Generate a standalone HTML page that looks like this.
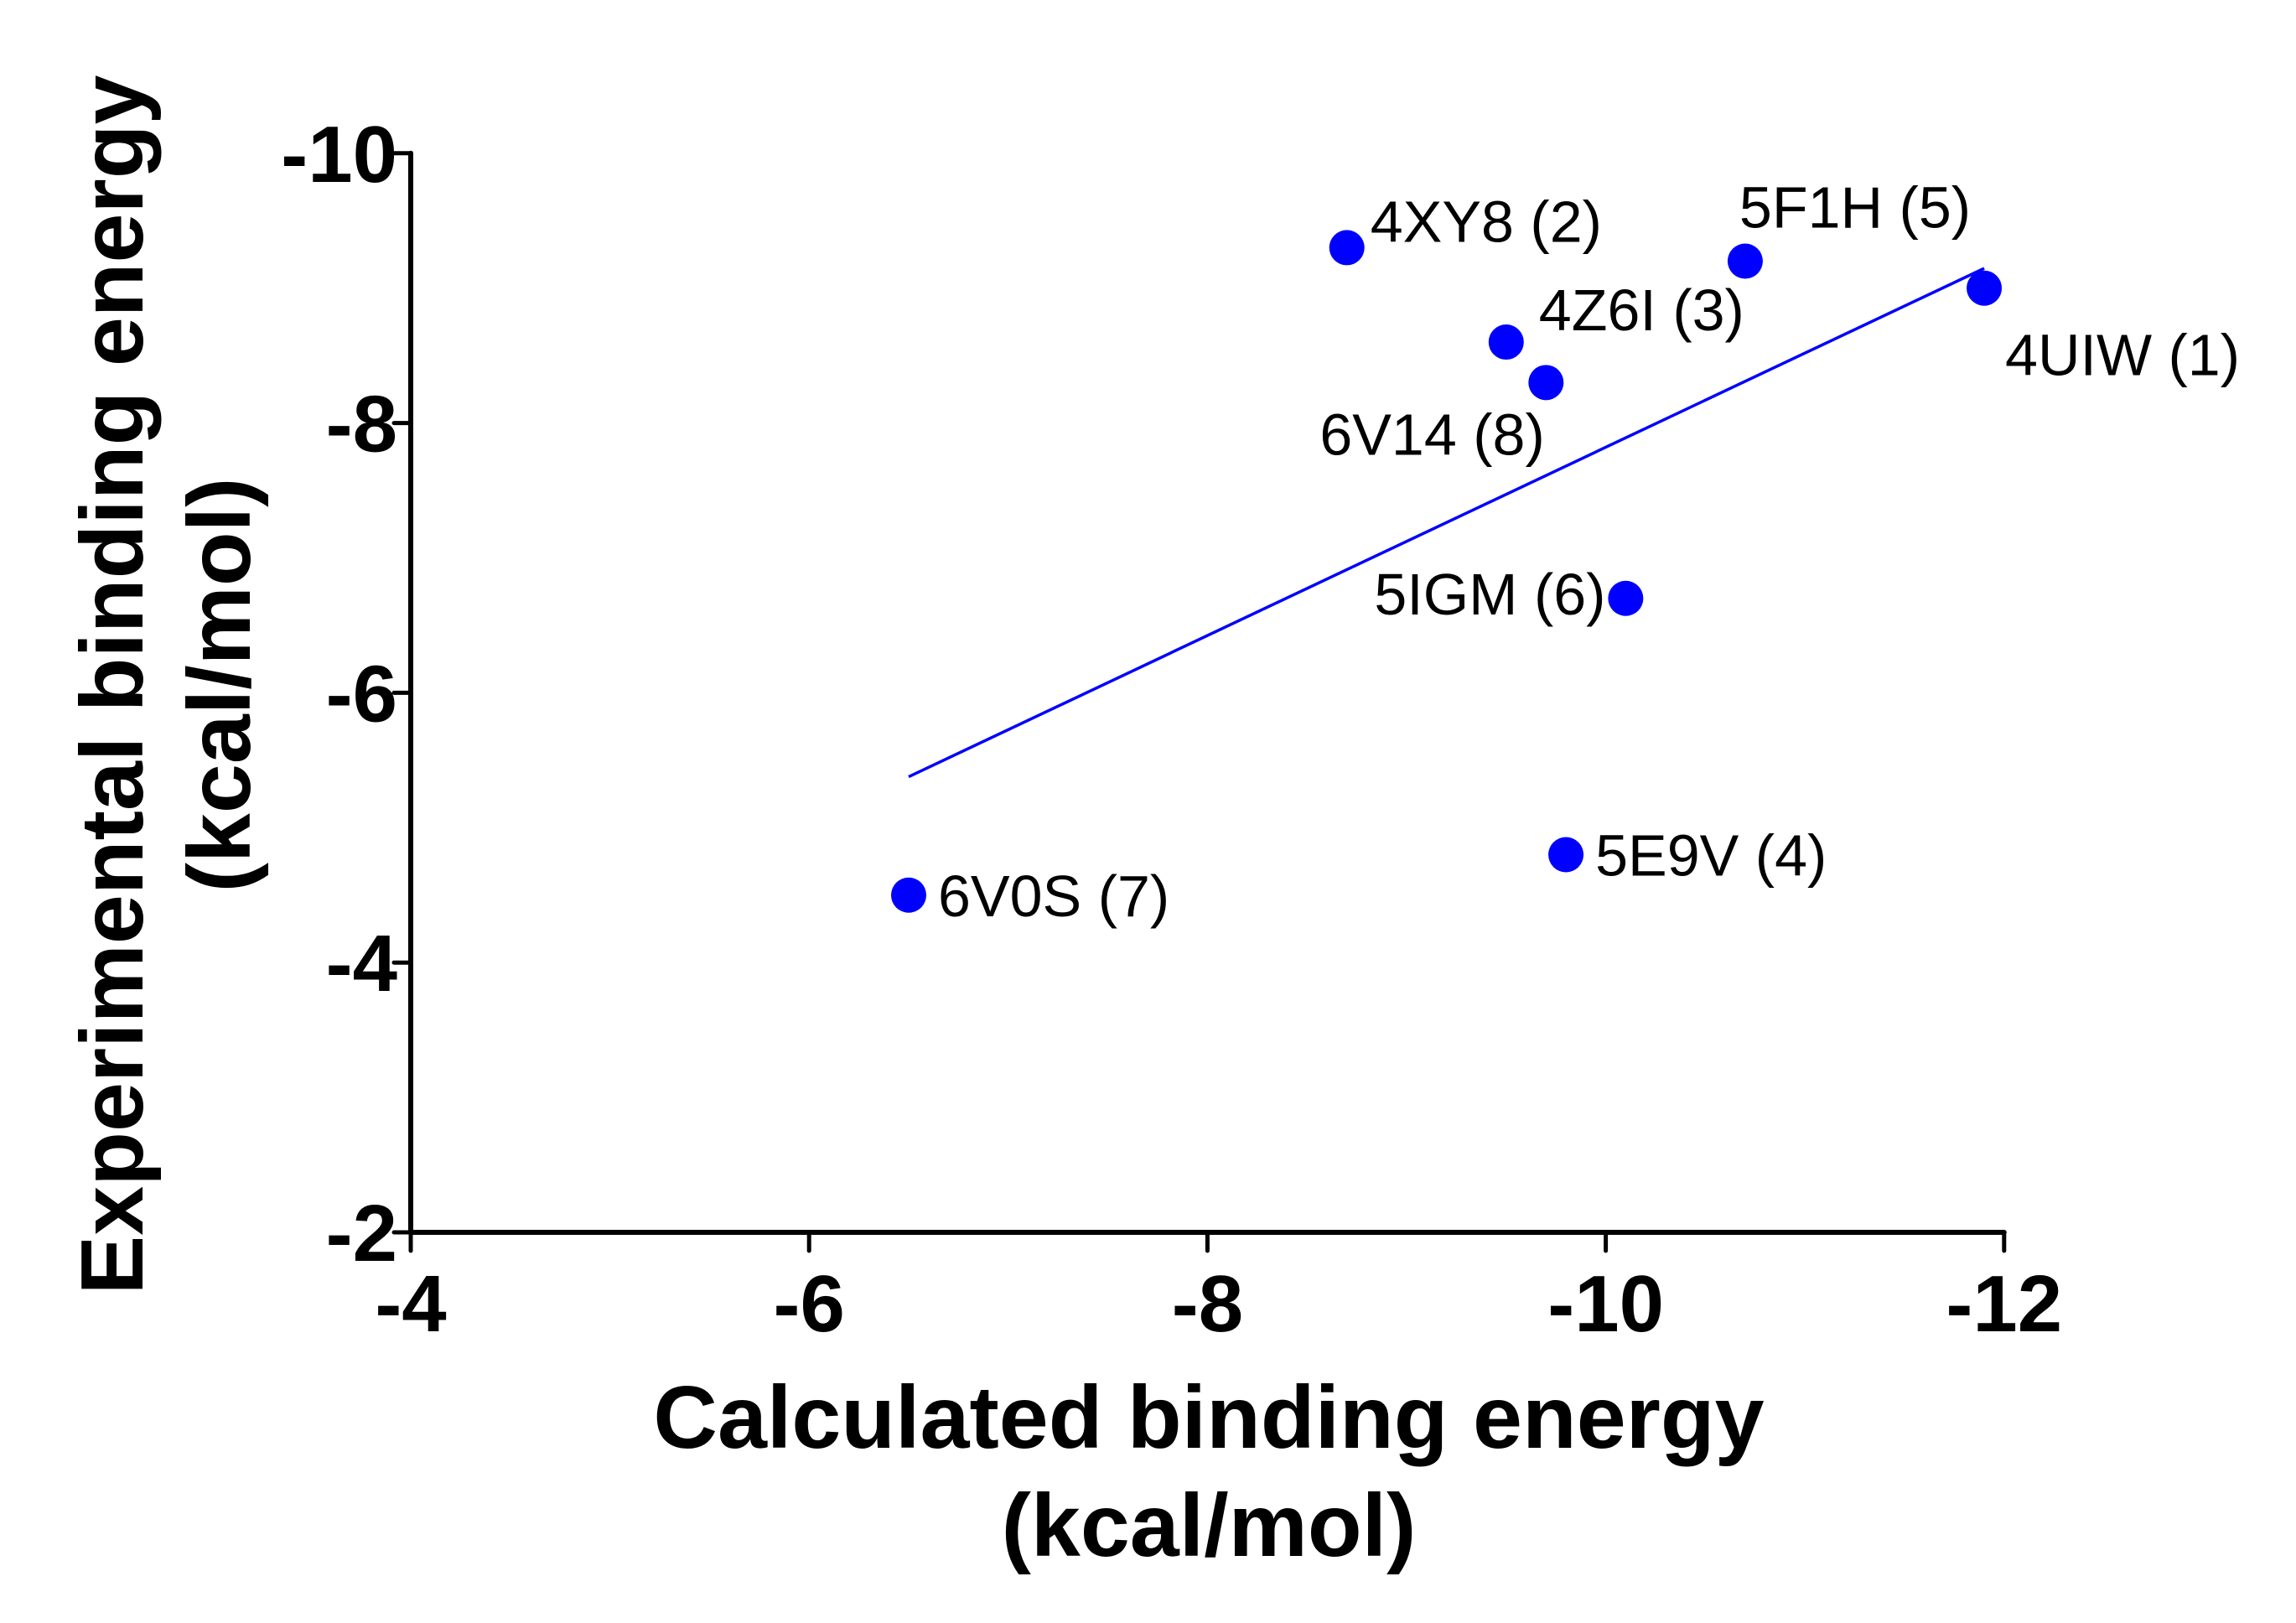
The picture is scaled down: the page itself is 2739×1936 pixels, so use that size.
<!DOCTYPE html>
<html><head><meta charset="utf-8"><style>
html,body{margin:0;padding:0;background:#fff;}
svg{display:block;font-family:"Liberation Sans",Arial,sans-serif;}
</style></head><body>
<svg id="chart" width="2739" height="1936" viewBox="0 0 2739 1936" xmlns="http://www.w3.org/2000/svg">
<g id="axes"></g>
<g id="marks"></g>
<text x="1442" y="1727" text-anchor="middle" font-size="106" font-weight="bold">Calculated binding energy</text>
<text x="1442" y="1856" text-anchor="middle" font-size="106" font-weight="bold">(kcal/mol)</text>
<text transform="translate(170,817) rotate(-90)" text-anchor="middle" font-size="106" font-weight="bold">Experimental binding energy</text>
<text transform="translate(298,817) rotate(-90)" text-anchor="middle" font-size="106" font-weight="bold">(kcal/mol)</text>
</svg>
<script>
const names = ["4UIW (1)","4XY8 (2)","4Z6I (3)","5E9V (4)","5F1H (5)","5IGM (6)","6V0S (7)","6V14 (8)"];
const calcValues = [-11.9,-8.7,-9.5,-9.8,-10.7,-10.1,-6.5,-9.7];
const expValues = [-9.0,-9.3,-8.6,-4.8,-9.2,-6.7,-4.5,-8.3];
const xTicks = [-4,-6,-8,-10,-12];
const yTicks = [-2,-4,-6,-8,-10];
const labelDx = [25,28,39,35,-7,-300,35,-270];
const labelDy = [104,-7,-14,25,-40,19,25,86];

const NS="http://www.w3.org/2000/svg";
const X0=490, XU=237.6, Y0=1470, YU=160.9;
function sx(v){return X0+(-4-v)*XU;}
function sy(v){return Y0-(-2-v)*YU;}
function mk(tag,attrs,parent){const e=document.createElementNS(NS,tag);for(const k in attrs)e.setAttribute(k,attrs[k]);parent.appendChild(e);return e;}
const axes=document.getElementById('axes'), marks=document.getElementById('marks');

let e=mk('line',{x1:X0,y1:sy(-10),x2:X0,y2:Y0,stroke:'#000','stroke-width':6,'stroke-linecap':'round'},axes);


e=mk('line',{x1:X0,y1:Y0,x2:sx(-12),y2:Y0,stroke:'#000','stroke-width':6,'stroke-linecap':'round'},axes);



xTicks.forEach(t=>{
  const x=sx(t);
  const tk=mk('line',{x1:x,y1:Y0,x2:x,y2:Y0+22,stroke:'#000','stroke-width':5,'stroke-linecap':'round'},axes);
  
  
  const lb=mk('text',{x:x,y:1588,'text-anchor':'middle','font-size':96,'font-weight':'bold'},axes);
  lb.textContent=String(t);
  
  
});
yTicks.forEach(t=>{
  const y=sy(t);
  const tk=mk('line',{x1:X0-20,y1:y,x2:X0,y2:y,stroke:'#000','stroke-width':5,'stroke-linecap':'round'},axes);
  
  
  const lb=mk('text',{x:474,y:y+34,'text-anchor':'end','font-size':96,'font-weight':'bold'},axes);
  lb.textContent=String(t);
  
  
});

const n=calcValues.length;
const mx=calcValues.reduce((a,b)=>a+b,0)/n, my=expValues.reduce((a,b)=>a+b,0)/n;
let cv=0,vv=0;for(let i=0;i<n;i++){cv+=(calcValues[i]-mx)*(expValues[i]-my);vv+=(calcValues[i]-mx)**2;}
const slope=cv/vv, icpt=my-slope*mx;
const xa=Math.max(...calcValues), xb=Math.min(...calcValues);
const fit=mk('line',{x1:sx(xa),y1:sy(icpt+slope*xa),x2:sx(xb),y2:sy(icpt+slope*xb),stroke:'#0000ff','stroke-width':3.5},marks);



for(let i=0;i<n;i++){
  const cx=sx(calcValues[i]), cy=sy(expValues[i]);
  const c=mk('circle',{cx:cx,cy:cy,r:21,fill:'#0000ff'},marks);
  
  
  const t=mk('text',{x:cx+labelDx[i],y:cy+labelDy[i],'font-size':70},marks);
  t.textContent=names[i];
  
  
}
</script>
</body></html>
